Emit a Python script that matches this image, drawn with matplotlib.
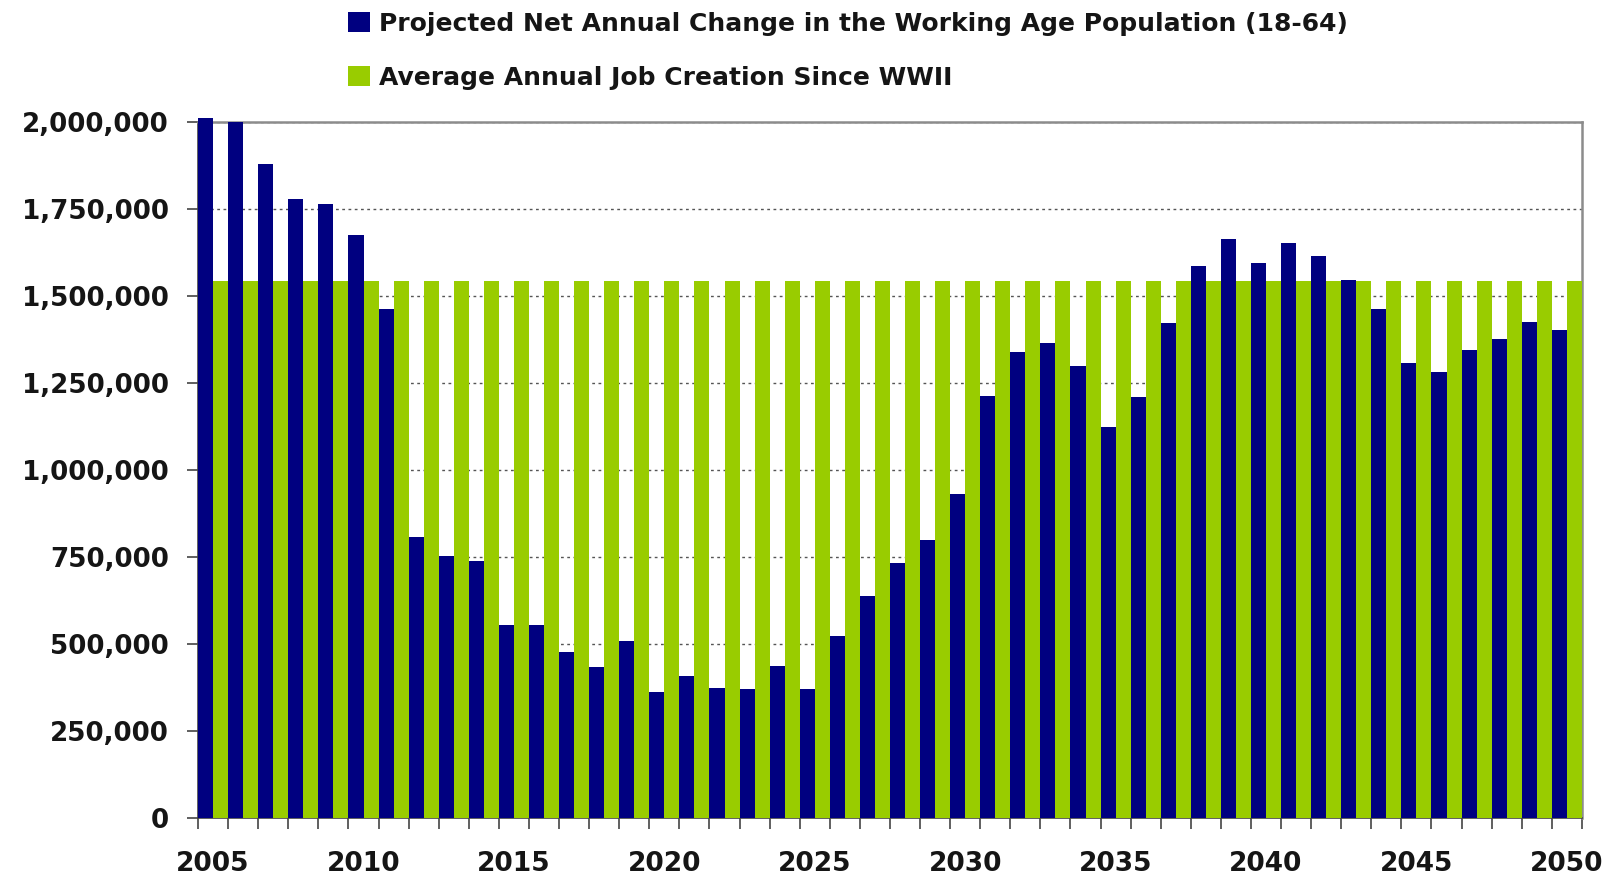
import matplotlib
matplotlib.use("Agg")
import matplotlib.pyplot as plt
import numpy as np
from matplotlib.ticker import FuncFormatter, FixedLocator

years = list(range(2005, 2051))
working_age_change = [
    2010000, 2000000, 1880000, 1778000, 1765000, 1675000, 1463000, 807000,
    751000, 737000, 555000, 555000, 475000, 433000, 509000, 362000,
    406000, 373000, 369000, 437000, 369000, 521000, 638000, 732000,
    799000, 930000, 1213000, 1338000, 1365000, 1298000, 1122000, 1209000,
    1421000, 1586000, 1664000, 1595000, 1653000, 1614000, 1547000, 1461000,
    1308000, 1282000, 1343000, 1375000, 1426000, 1403000,
]
avg_job_creation = [1542000] * len(years)
labels = ["Projected Net Annual Change in the Working Age Population (18-64)",
          "Average Annual Job Creation Since WWII"]
yticks = [0, 250000, 500000, 750000, 1000000, 1250000, 1500000, 1750000, 2000000]
xlabel_years = [2005, 2010, 2015, 2020, 2025, 2030, 2035, 2040, 2045, 2050]

NAVY = "#000080"
GREEN = "#99CC00"

plt.rcParams['font.family'] = ['DejaVu Sans']
plt.rcParams['font.weight'] = 'bold'

fig = plt.figure(figsize=(16.18, 8.77), dpi=100)
ax = fig.add_axes([0.1224, 0.0676, 0.9777 - 0.1224, 0.861 - 0.0676])

x = np.arange(len(years))
w = 0.5
b1 = ax.bar(x - 0.5, working_age_change, width=w, align='edge', color=NAVY,
            linewidth=0, zorder=3, label=labels[0], clip_on=False)
b2 = ax.bar(x, avg_job_creation, width=w, align='edge', color=GREEN,
            linewidth=0, zorder=3, label=labels[1])

ax.set_xlim(-0.5, len(years) - 0.5)
ax.set_ylim(0, 2000000)

ax.set_yticks(yticks)
ax.yaxis.set_major_formatter(FuncFormatter(lambda v, p: f"{int(v):,}"))
ax.yaxis.grid(True, color="#555555", linestyle=(0, (2, 2.5)), linewidth=1.0, zorder=1)
ax.set_axisbelow(True)

# x ticks: labels at category centers, tick marks at boundaries
ax.xaxis.set_major_locator(FixedLocator([years.index(y) for y in xlabel_years]))
ax.set_xticklabels([str(y) for y in xlabel_years])
ax.xaxis.set_minor_locator(FixedLocator(np.arange(len(years) + 1) - 0.5))
ax.tick_params(axis='x', which='major', length=0, pad=24, labelsize=19, labelcolor="#151515")
ax.tick_params(axis='x', which='minor', length=8, width=1.2, color="#444444", direction='out')
ax.tick_params(axis='y', which='major', length=8, width=1.2, color="#444444", direction='out',
               pad=13, labelsize=18.8, labelcolor="#151515")

for s in ['top', 'right']:
    ax.spines[s].set_color("#8c8c8c")
    ax.spines[s].set_linewidth(1.8)
for s in ['left', 'bottom']:
    ax.spines[s].set_color("#444444")
    ax.spines[s].set_linewidth(1.2)

fig.legend(handles=[b1, b2], labels=labels, loc='upper left',
           bbox_to_anchor=(348 / 1618, 1 - 12 / 877), frameon=False,
           prop={'size': 18, 'weight': 'bold'}, handlelength=0.88, handleheight=0.85,
           handletextpad=0.36, labelspacing=1.18, borderpad=0, borderaxespad=0,
           labelcolor="#151515")

fig.savefig("out.png", dpi=100)
